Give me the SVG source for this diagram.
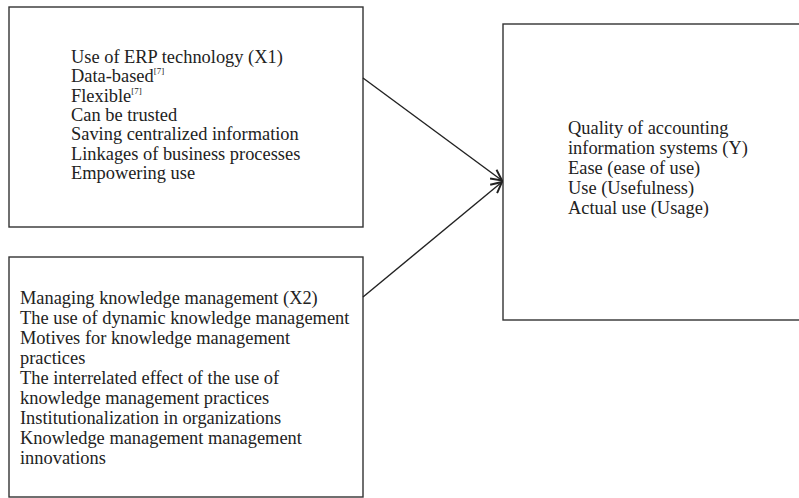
<svg xmlns="http://www.w3.org/2000/svg" width="799" height="498" viewBox="0 0 799 498">
<defs>
<style>
.box{fill:#fff;stroke:#333;stroke-width:1.4}
.t{font-family:"Liberation Serif","Times New Roman",serif;font-size:18.4px;fill:#222}
.sup{font-size:9px}
.c{fill:none;stroke:#222;stroke-width:1.4}
</style>
<marker id="arr" viewBox="0 0 12 12" refX="11" refY="6" markerWidth="13" markerHeight="13" markerUnits="userSpaceOnUse" orient="auto">
<path d="M1,1 L11,6 L1,11" fill="none" stroke="#222" stroke-width="1.8"/>
</marker>
</defs>
<rect width="799" height="498" fill="#fff"/>
<g id="x1">
<rect class="box" x="9" y="7" width="354" height="220"/>
<text class="t" x="71" y="63">Use of ERP technology (X1)</text>
<text class="t" x="71" y="82.3">Data-based<tspan class="sup" dy="-8">[7]</tspan></text>
<text class="t" x="71" y="101.6">Flexible<tspan class="sup" dy="-8">[7]</tspan></text>
<text class="t" x="71" y="120.9">Can be trusted</text>
<text class="t" x="71" y="140.2">Saving centralized information</text>
<text class="t" x="71" y="159.5">Linkages of business processes</text>
<text class="t" x="71" y="178.8">Empowering use</text>
</g>
<g id="x2">
<rect class="box" x="9" y="257" width="354" height="240"/>
<text class="t" x="20" y="304">Managing knowledge management (X2)</text>
<text class="t" x="20" y="324">The use of dynamic knowledge management</text>
<text class="t" x="20" y="344">Motives for knowledge management</text>
<text class="t" x="20" y="364">practices</text>
<text class="t" x="20" y="384">The interrelated effect of the use of</text>
<text class="t" x="20" y="404">knowledge management practices</text>
<text class="t" x="20" y="424">Institutionalization in organizations</text>
<text class="t" x="20" y="444">Knowledge management management</text>
<text class="t" x="20" y="464">innovations</text>
</g>
<g id="y">
<rect class="box" x="503" y="24" width="310" height="296"/>
<text class="t" x="568" y="134">Quality of accounting</text>
<text class="t" x="568" y="154">information systems (Y)</text>
<text class="t" x="568" y="174">Ease (ease of use)</text>
<text class="t" x="568" y="194">Use (Usefulness)</text>
<text class="t" x="568" y="214">Actual use (Usage)</text>
</g>
<g id="connectors">
<line class="c" x1="363" y1="78" x2="502" y2="180.5" marker-end="url(#arr)"/>
<line class="c" x1="363" y1="297" x2="502" y2="182" marker-end="url(#arr)"/>
</g>
</svg>
